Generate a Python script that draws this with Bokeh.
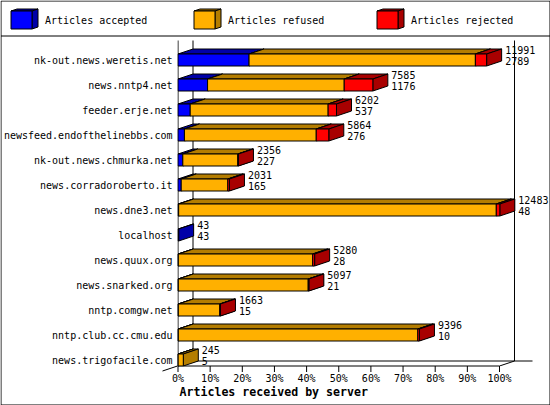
from bokeh.plotting import figure
from bokeh.layouts import column
from bokeh.models import Range1d, FixedTicker, ColumnDataSource
from bokeh.core.properties import value
from bokeh.embed import file_html
from bokeh.resources import INLINE

categories = ["nk-out.news.weretis.net", "news.nntp4.net", "feeder.erje.net",
              "newsfeed.endofthelinebbs.com", "nk-out.news.chmurka.net",
              "news.corradoroberto.it", "news.dne3.net", "localhost", "news.quux.org",
              "news.snarked.org", "nntp.comgw.net", "nntp.club.cc.cmu.edu",
              "news.trigofacile.com"]
accepted = [22.1, 9.2, 3.8, 2.0, 1.5, 1.0, 0.2, 0.2, 0.1, 0.1, 0.1, 0.1, 0.05]
refused = [70.4, 42.5, 42.9, 41.0, 17.1, 14.5, 98.8, 0.0, 41.8, 40.4, 12.9, 74.5, 1.6]
rejected = [3.5, 8.9, 2.6, 3.9, 0.2, 0.5, 1.1, 0.0, 0.6, 0.2, 0.2, 0.5, 0.0]
totals = ["11991", "7585", "6202", "5864", "2356", "2031", "12483", "43", "5280", "5097", "1663", "9396", "245"]
second = ["2789", "1176", "537", "276", "227", "165", "48", "43", "28", "21", "15", "10", "5"]
x_ticks = [0, 10, 20, 30, 40, 50, 60, 70, 80, 90, 100]
legend_labels = ["Articles accepted", "Articles refused", "Articles rejected"]

FONT = "DejaVu Sans Mono"
FRONT = ["#0000ff", "#ffb000", "#ff0000"]
DARK = ["#0000a8", "#b47d00", "#a80000"]

W, H = 550, 405
PX_PER_PCT = 3.215
PX_PER_ROW = 25.0
X0, Y0 = 177.5, 59.5          # canvas position of 0% and of row 0
FRAME_L, FRAME_B = 177, 365


def fx(px):
    return (px - X0) / PX_PER_PCT


def fy(py):
    return (py - Y0) / PX_PER_ROW


DX = 15 / PX_PER_PCT
DY = 5 / PX_PER_ROW
HALF = 6 / PX_PER_ROW
ABS = {"position": "absolute", "left": "0px", "top": "0px"}

# page furniture: a full-canvas figure whose units are canvas pixels
bg = figure(width=W, height=H, output_backend="svg", toolbar_location=None,
            x_range=Range1d(0, W), y_range=Range1d(H, 0), min_border=0,
            outline_line_color=None, x_axis_type=None, y_axis_type=None,
            background_fill_color="white", border_fill_color="white", frame_align=False)
bg.styles = ABS
bg.grid.visible = False
bg.line([0.5, 549.5, 549.5, 0.5, 0.5], [0.5, 0.5, 404.5, 404.5, 0.5], line_color="black", line_width=1)
bg.line([0.5, 549.5], [35.5, 35.5], line_color="black", line_width=1)
bg.line([162, FRAME_L], [370.5, 365.5], line_color="black", line_width=1)
bg.line([X0, X0 + 100 * PX_PER_PCT], [365.5, 365.5], line_color="black", line_width=1)
tick_px = [X0 + t * PX_PER_PCT for t in x_ticks]
bg.segment(x0=tick_px, x1=tick_px, y0=[365.5] * len(tick_px), y1=[371.5] * len(tick_px),
           line_color="black", line_width=1)

for left, label, front, dark in zip((10.5, 193.5, 376.5), legend_labels, FRONT, DARK):
    r = left + 21
    a, b, c, d = 10.5, 28.5, 8.5, 26.5
    bg.patch([left, r, r + 6, left + 6], [a, a, c, c], fill_color=dark, line_color="black", line_width=1)
    bg.patch([r, r + 6, r + 6, r], [a, c, d, b], fill_color=dark, line_color="black", line_width=1)
    bg.patch([left, r, r, left], [a, a, b, b], fill_color=front, line_color="black", line_width=1)
    bg.text(x=[r + 13], y=[20], text=[label], text_font=value(FONT), text_font_size="10px",
            text_baseline="middle", text_color="black")

bg.text(x=[179], y=[391], text=["Articles received by server"], text_font=value(FONT),
        text_font_size="11.6px", text_font_style="bold", text_baseline="middle", text_color="black")

# the chart itself, transparent, on top
p = figure(width=W, height=H, output_backend="svg", toolbar_location=None,
           x_range=Range1d(fx(FRAME_L), fx(W)), y_range=Range1d(fy(FRAME_B + 1), fy(36)),
           min_border_left=FRAME_L, min_border_right=0, min_border_top=36,
           min_border_bottom=H - FRAME_B - 1, outline_line_color=None,
           background_fill_color=None, border_fill_color=None, frame_align=False)
p.styles = ABS
p.grid.visible = False

n = len(categories)
for ax in (p.xaxis[0], p.yaxis[0]):
    ax.axis_line_color = None
    ax.major_tick_line_color = None
    ax.minor_tick_line_color = None
    ax.major_label_text_font = FONT
    ax.major_label_text_font_size = "10px"
    ax.major_label_text_color = "black"

p.xaxis[0].ticker = FixedTicker(ticks=x_ticks)
p.xaxis[0].major_label_overrides = {t: f"{t}%" for t in x_ticks}
p.xaxis[0].major_tick_in = 0
p.xaxis[0].major_tick_out = 5
p.xaxis[0].major_label_standoff = 1

p.yaxis[0].ticker = FixedTicker(ticks=list(range(n)))
p.yaxis[0].major_label_overrides = {i: c for i, c in enumerate(categories)}
p.yaxis[0].major_tick_in = 0
p.yaxis[0].major_tick_out = 0
p.yaxis[0].major_label_standoff = 5

# walls of the 3D box
top_y = fy(40)
front_y = fy(FRAME_B + 0.5)
back_y = front_y - DY
p.line([0, 0], [top_y, front_y], line_color="black", line_width=1)
p.line([DX, DX], [top_y, back_y], line_color="black", line_width=1)
p.line([100 + DX, 100 + DX], [top_y, back_y], line_color="black", line_width=1)
p.line([0, DX, 100 + DX + 5.6], [front_y, back_y, back_y], line_color="black", line_width=1)
p.line([100, 100 + DX], [front_y, back_y], line_color="black", line_width=1)

# stacked 3D bars
starts = [0.0] * n
ends = [0.0] * n
for values, front, dark in zip((accepted, refused, rejected), FRONT, DARK):
    tops, sides, fronts = ([], []), ([], []), dict(left=[], right=[], top=[], bottom=[])
    for i, v in enumerate(values):
        if v <= 0:
            continue
        a, b = starts[i], starts[i] + v
        up, lo = i - HALF, i + HALF
        tops[0].append([a, b, b + DX, a + DX])
        tops[1].append([up, up, up - DY, up - DY])
        sides[0].append([b, b + DX, b + DX, b])
        sides[1].append([up, up - DY, lo - DY, lo])
        fronts["left"].append(a)
        fronts["right"].append(b)
        fronts["top"].append(up)
        fronts["bottom"].append(lo)
        starts[i] = b
        ends[i] = b
    p.patches(tops[0], tops[1], fill_color=dark, line_color="black", line_width=1)
    p.patches(sides[0], sides[1], fill_color=dark, line_color="black", line_width=1)
    p.quad(source=ColumnDataSource(fronts), left="left", right="right", top="top", bottom="bottom",
           fill_color=front, line_color="black", line_width=1)

# value labels beside every bar
rows = list(range(n))
for texts, off in ((totals, -10), (second, 1)):
    p.text(x=ends, y=rows, text=texts, x_offset=18.5, y_offset=off, text_baseline="middle",
           text_font=value(FONT), text_font_size="10px", text_color="black")

root = column(bg, p, width=W, height=H)
root.styles = ABS
open("out.html", "w").write(file_html(root, INLINE))
